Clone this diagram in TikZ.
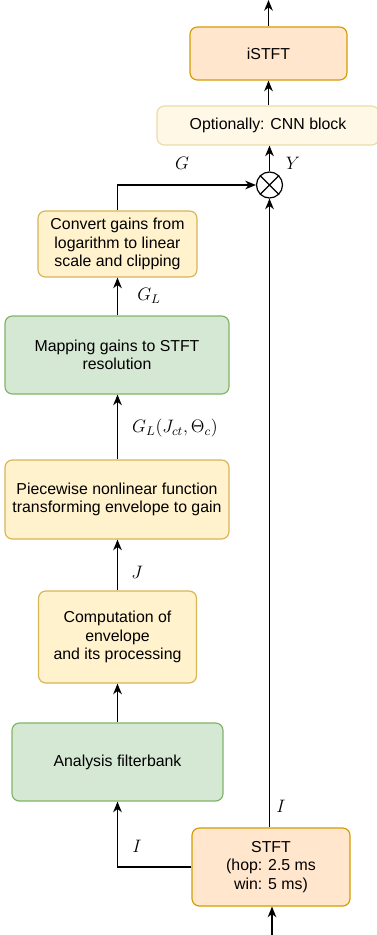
\RequirePackage{fix-cm}
\documentclass[tikz,border=0pt]{standalone}
\usepackage{fontspec}
\setmainfont{Liberation Sans}
\usetikzlibrary{arrows.meta}
\definecolor{orfill}{HTML}{FFE6CC}\definecolor{ordraw}{HTML}{D79B00}
\definecolor{yefill}{HTML}{FFF2CC}\definecolor{yedraw}{HTML}{D6B656}
\definecolor{grfill}{HTML}{D5E8D4}\definecolor{grdraw}{HTML}{82B366}
\definecolor{cnnfill}{HTML}{FFF8E6}\definecolor{cnndraw}{HTML}{EBDBAB}
\tikzset{
  box/.style={rectangle, rounded corners=5.5pt, line width=0.9pt, align=center, inner sep=0pt,
    font=\fontsize{11.9}{13.9}\selectfont},
  orbox/.style={box, fill=orfill, draw=ordraw},
  yebox/.style={box, fill=yefill, draw=yedraw},
  grbox/.style={box, fill=grfill, draw=grdraw},
  cnnbox/.style={box, fill=cnnfill, draw=cnndraw},
  conn/.style={line width=0.9pt, -{Stealth[length=8pt,width=6.5pt,inset=2.5pt]}},
  lbl/.style={font=\fontsize{13.5}{15}\selectfont, inner sep=0pt}
}
\begin{document}
\begin{tikzpicture}[x=0.75pt,y=-0.75pt]
\useasboundingbox (0,0) rectangle (376,935);
% nodes
\node[orbox, minimum width=117.75pt, minimum height=39.75pt] (istft) at (268.5,53.5) {iSTFT};
\node[cnnbox, minimum width=166.5pt, minimum height=29.25pt] (cnn) at (268,125.5) {Optionally: CNN block};
\node[circle, draw, line width=0.9pt, minimum size=19.5pt, inner sep=0pt] (mul) at (269.5,185) {};
\draw[line width=0.9pt] (mul.north west) -- (mul.south east) (mul.north east) -- (mul.south west);
\node[yebox, minimum width=119.25pt, minimum height=49.5pt] (conv) at (117.5,244) {Convert gains from\\logarithm to linear\\scale and clipping};
\node[grbox, minimum width=168pt, minimum height=58.5pt] (map) at (117,355) {Mapping gains to STFT\\resolution};
\node[yebox, minimum width=168pt, minimum height=59.25pt] (piece) at (117,499.5) {Piecewise nonlinear function\\transforming envelope to gain};
\node[yebox, minimum width=118.5pt, minimum height=69pt] (comp) at (117.5,637) {Computation of\\envelope\\and its processing};
\node[grbox, minimum width=158.25pt, minimum height=58.5pt] (ana) at (117.5,762) {Analysis filterbank};
\node[orbox, minimum width=118.5pt, minimum height=58.5pt] (stft) at (271,867) {STFT\\(hop: 2.5 ms\\win: 5 ms)};
\coordinate (top) at (268.5,0);
\coordinate (bot) at (272,935);
\coordinate (gcorner) at (117.5,185);
\coordinate (icorner) at (117.5,867);
% connectors
\draw[conn] (istft.north) -- (top);
\draw[conn] (cnn.north -| istft) -- (istft.south);
\draw[conn] (mul.north) -- (cnn.south -| mul);
\draw[conn] (conv.north) -- (gcorner) -- (mul.west);
\draw[conn] (map.north -| conv) -- (conv.south);
\draw[conn] (piece.north -| conv) -- (map.south -| conv);
\draw[conn] (comp.north) -- (piece.south -| comp);
\draw[conn] (ana.north) -- (comp.south);
\draw[conn] (stft.west) -- (icorner) -- (ana.south);
\draw[conn] (stft.north -| mul) -- (mul.south);
\draw[conn] (bot) -- (stft.south -| bot);
% labels
\node[lbl] (lG) at (182,163) {$G$};
\node[lbl] (lY) at (293,163) {$Y$};
\node[lbl] (lGL) at (149,296) {$G_L$};
\node[lbl] (lGLJ) at (175,428) {$G_L(J_{ct},\Theta_c)$};
\node[lbl] (lJ) at (137,572) {$J$};
\node[lbl] (lI1) at (137,846) {$I$};
\node[lbl] (lI2) at (281,806) {$I$};
\end{tikzpicture}
\end{document}
